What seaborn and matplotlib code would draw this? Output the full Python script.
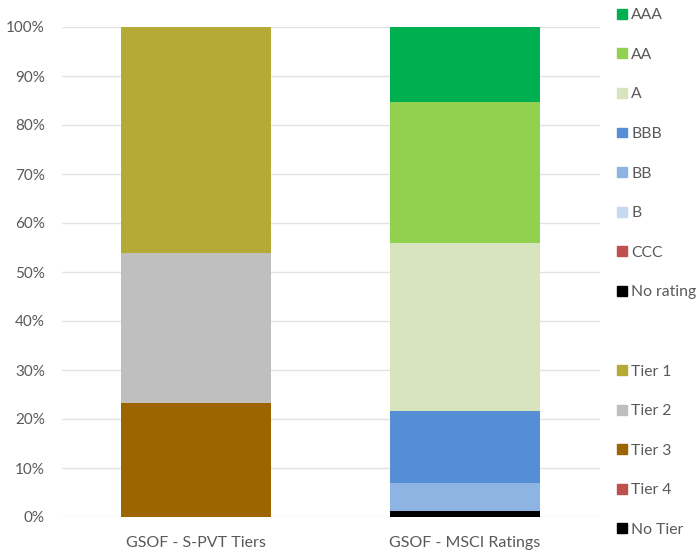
import matplotlib
matplotlib.use("Agg")
import matplotlib.pyplot as plt
import matplotlib.patches as mpatches
from matplotlib.ticker import PercentFormatter
import seaborn as sns
import pandas as pd

categories = ["GSOF - S-PVT Tiers", "GSOF - MSCI Ratings"]

tier_labels = ["No Tier", "Tier 4", "Tier 3", "Tier 2", "Tier 1"]
tier_values = [0.0, 0.0, 0.232, 0.306, 0.462]
tier_colors = ["#000000", "#C0504D", "#9C6500", "#BFBFBF", "#B5AA36"]

msci_labels = ["No rating", "CCC", "B", "BB", "BBB", "A", "AA", "AAA"]
msci_values = [0.013, 0.0, 0.0, 0.057, 0.147, 0.343, 0.287, 0.153]
msci_colors = ["#000000", "#C0504D", "#C6D9F1", "#8EB4E3", "#558ED5", "#D7E4BD", "#92D050", "#00B050"]

sns.set_theme(style="white")
plt.rcParams["font.family"] = ["Lato", "DejaVu Sans"]
text_color = "#595959"

fig = plt.figure(figsize=(6.99, 5.53), dpi=100)
ax = fig.add_axes([61.5 / 699, 1 - 517 / 553, 538 / 699, 490 / 553])

def stack(cat, labels, values, colors):
    bottom = 0.0
    for lab, val, col in zip(labels, values, colors):
        if val > 0:
            df = pd.DataFrame({"cat": [cat], "val": [val]})
            sns.barplot(data=df, x="cat", y="val", order=categories, ax=ax,
                        color=col, saturation=1, width=0.56, bottom=bottom,
                        linewidth=0, zorder=3)
        bottom += val

stack(categories[0], tier_labels, tier_values, tier_colors)
stack(categories[1], msci_labels, msci_values, msci_colors)

ax.set_xlim(-0.5, 1.5)
ax.set_ylim(0, 1)
ax.set_yticks([i / 10 for i in range(11)])
ax.yaxis.set_major_formatter(PercentFormatter(1.0, decimals=0))
ax.grid(axis="y", color="#E3E3E3", linewidth=1, zorder=0)
ax.set_axisbelow(True)
for s in ax.spines.values():
    s.set_visible(False)
ax.set_xlabel("")
ax.set_ylabel("")
ax.tick_params(axis="y", length=0, labelsize=11, colors=text_color, pad=12)
ax.tick_params(axis="x", length=0, labelsize=11.5, colors=text_color, pad=14)

handles = []
for lab, col in zip(msci_labels[::-1], msci_colors[::-1]):
    handles.append(mpatches.Patch(color=col, label=lab))
handles.append(mpatches.Patch(color="none", label=" "))
for lab, col in zip(tier_labels[::-1], tier_colors[::-1]):
    handles.append(mpatches.Patch(color=col, label=lab))

leg = fig.legend(handles=handles, loc="upper left", bbox_to_anchor=(611 / 699, 1 - 2 / 553),
                 frameon=False, fontsize=11.3, labelspacing=1.63, handlelength=0.6,
                 handleheight=0.6, handletextpad=0.3, borderaxespad=0)
for t in leg.get_texts():
    t.set_color(text_color)

fig.savefig("out.png", dpi=100)
